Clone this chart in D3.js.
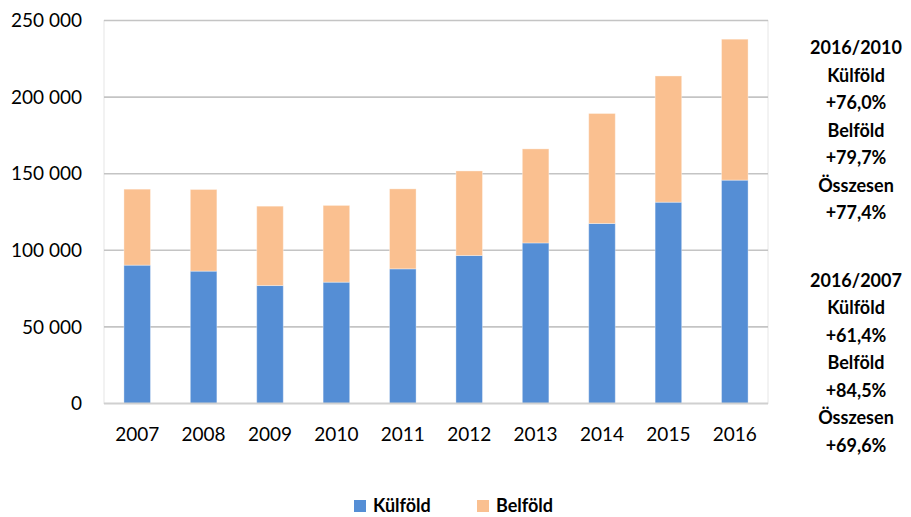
<html>
<script src='https://d3js.org/d3.v7.min.js'></script>
<style>
body {margin:0; background:#fff;}
text {font-family: Lato, 'Open Sans', sans-serif; fill:#000;}
</style>
<body onload='init()'>
<svg width=911 height=517></svg>
<script>
var years = ["2007","2008","2009","2010","2011","2012","2013","2014","2015","2016"];
var kulfold = [90300, 86400, 77000, 79200, 87900, 96600, 104800, 117500, 131400, 145800];
var belfold = [49600, 53300, 51800, 50100, 52200, 55200, 61400, 71800, 82400, 92000];
var yTicks = [0, 50000, 100000, 150000, 200000, 250000];
var notes = [
  ["2016/2010", "Külföld", "+76,0%", "Belföld", "+79,7%", "Összesen", "+77,4%"],
  ["2016/2007", "Külföld", "+61,4%", "Belföld", "+84,5%", "Összesen", "+69,6%"]
];
var seriesNames = ["Külföld", "Belföld"];
var colors = ["#558ed5", "#fac090"];

function init() {
  var svg = d3.select("svg");
  var left = 104, right = 768, top = 20.5, bottom = 403.5;

  var x = d3.scaleBand().domain(years).range([left, right]).paddingInner(0.6).paddingOuter(0.3);
  var y = d3.scaleLinear().domain([0, 250000]).range([bottom, top]);

  // plot frame
  svg.append("rect").attr("x", left).attr("y", top).attr("width", right - left).attr("height", bottom - top)
    .attr("fill", "none").attr("stroke", "#e6e6e6").attr("stroke-width", 1);

  // grid
  svg.append("g").selectAll("line").data(yTicks.slice(1)).enter().append("line")
    .attr("x1", left).attr("x2", right)
    .attr("y1", function(d) { return y(d); }).attr("y2", function(d) { return y(d); })
    .attr("stroke", "#c4c4c4").attr("stroke-width", 1.6);

  var fmt = function(d) { return d3.format(",")(d).replace(/,/g, " "); };
  svg.append("g").selectAll("text").data(yTicks).enter().append("text")
    .attr("x", 82).attr("y", function(d) { return y(d); }).attr("dy", "0.35em")
    .attr("text-anchor", "end").style("font-size", "19px").text(fmt);

  // stacked bars
  var rows = years.map(function(yr, i) { return {year: yr, k: kulfold[i], b: belfold[i]}; });
  var stack = d3.stack().keys(["k", "b"])(rows);
  svg.append("g").selectAll("g").data(stack).enter().append("g")
    .attr("fill", function(d, i) { return colors[i]; })
    .selectAll("rect").data(function(d) { return d; }).enter().append("rect")
    .attr("x", function(d) { return x(d.data.year); })
    .attr("width", x.bandwidth())
    .attr("y", function(d) { return y(d[1]); })
    .attr("height", function(d) { return y(d[0]) - y(d[1]); })
    .attr("stroke", "#ffffff").attr("stroke-opacity", 0.35).attr("stroke-width", 1);

  // baseline
  svg.append("line").attr("x1", left).attr("x2", right).attr("y1", bottom).attr("y2", bottom)
    .attr("stroke", "#d0d0d0").attr("stroke-width", 2);

  svg.append("g").selectAll("text").data(years).enter().append("text")
    .attr("x", function(d) { return x(d) + x.bandwidth() / 2; }).attr("y", 434).attr("dy", "0.35em")
    .attr("text-anchor", "middle").style("font-size", "19px").text(function(d) { return d; });

  // side notes
  var blocks = [48, 280.5];
  notes.forEach(function(lines, bi) {
    svg.append("g").selectAll("text").data(lines).enter().append("text")
      .attr("x", 856).attr("y", function(d, i) { return blocks[bi] + i * 27.5; }).attr("dy", "0.35em")
      .attr("text-anchor", "middle").style("font-size", "18px").style("font-weight", "bold")
      .text(function(d) { return d; });
  });

  // legend
  var lx = [354, 477];
  var lg = svg.append("g").selectAll("g").data(seriesNames).enter().append("g")
    .attr("transform", function(d, i) { return "translate(" + lx[i] + ",500)"; });
  lg.append("rect").attr("width", 12).attr("height", 12).attr("fill", function(d, i) { return colors[i]; });
  lg.append("text").attr("x", 19).attr("y", 6).attr("dy", "0.35em")
    .style("font-size", "18px").style("font-weight", "bold").text(function(d) { return d; });
}
</script>
</body>
</html>
